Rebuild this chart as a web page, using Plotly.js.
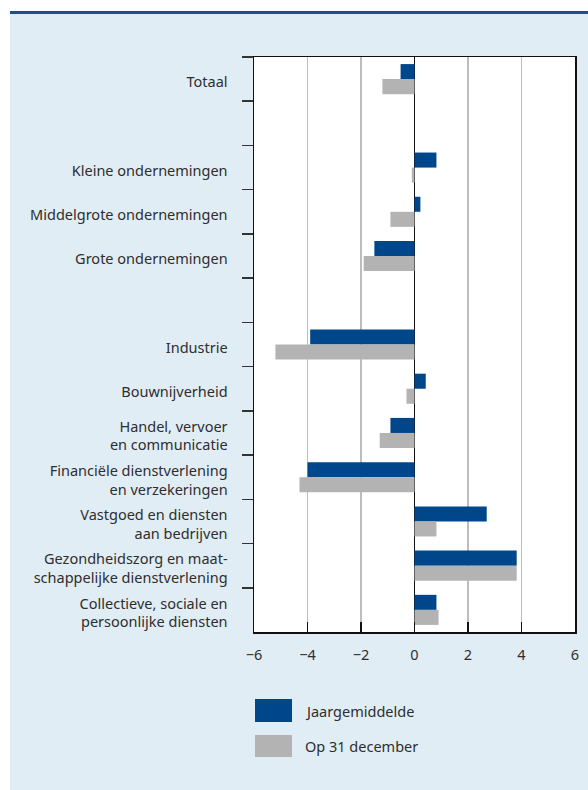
<!DOCTYPE html>
<html>
<head>
<meta charset="utf-8">
<script src="https://cdn.plot.ly/plotly-3.0.1.min.js"></script>
<style>
  html, body { margin: 0; padding: 0; background: #ffffff; }
  #bg { position: absolute; left: 10px; top: 14px; width: 578px; height: 776px; background: #e1edf5; }
  #topline { position: absolute; left: 10px; top: 11px; width: 578px; height: 3px; background: #1d4f8e; }
  #chart { position: absolute; left: 0; top: 0; width: 588px; height: 790px; }
</style>
</head>
<body>
<div id="bg"></div>
<div id="topline"></div>
<div id="chart"></div>
<script>
const categories = [
  "Totaal",
  " ",
  "Kleine ondernemingen",
  "Middelgrote ondernemingen",
  "Grote ondernemingen",
  "  ",
  "Industrie",
  "Bouwnijverheid",
  "Handel, vervoer<br>en communicatie",
  "Financiële dienstverlening<br>en verzekeringen",
  "Vastgoed en diensten<br>aan bedrijven",
  "Gezondheidszorg en maat-<br>schappelijke dienstverlening",
  "Collectieve, sociale en<br>persoonlijke diensten"
];
const jaargemiddelde = [-0.52, null, 0.82, 0.22, -1.5, null, -3.9, 0.42, -0.9, -4.0, 2.7, 3.82, 0.82];
const op31december   = [-1.2, null, -0.1, -0.9, -1.9, null, -5.2, -0.3, -1.3, -4.3, 0.82, 3.82, 0.9];
const seriesNames = ["Jaargemiddelde", "Op 31 december"];
const xTicks = [-6, -4, -2, 0, 2, 4, 6];

const W = 588, H = 790;
const M = { l: 254, r: 13, t: 57, b: 158 };
const pw = W - M.l - M.r, ph = H - M.t - M.b;
const px = x => (x - M.l) / pw;
const py = y => (H - M.b - y) / ph;

const blue = "#00468b", grey = "#b3b3b3", txt = "#2e2e2e";
const font = "Noto Sans, Open Sans, sans-serif";

const traces = [
  { type: "bar", orientation: "h", name: seriesNames[0], y: categories, x: jaargemiddelde,
    marker: { color: blue }, hoverinfo: "x+name" },
  { type: "bar", orientation: "h", name: seriesNames[1], y: categories, x: op31december,
    marker: { color: grey }, hoverinfo: "x+name" }
];

const layout = {
  width: W, height: H,
  margin: M,
  paper_bgcolor: "rgba(0,0,0,0)",
  plot_bgcolor: "#ffffff",
  barmode: "group",
  bargap: 0.32,
  bargroupgap: 0,
  showlegend: false,
  font: { family: font, size: 14.5, color: txt },
  xaxis: {
    range: [-6, 6],
    tickvals: xTicks,
    ticks: "inside", ticklen: 10, tickwidth: 1.5, tickcolor: "#111",
    showgrid: true, gridcolor: "#bdbdbd", gridwidth: 1.5,
    zeroline: true, zerolinecolor: "#111", zerolinewidth: 1.5,
    showline: true, linecolor: "#111", linewidth: 1.5, mirror: true,
    tickfont: { size: 14.5, color: txt, family: font },
    ticklabelstandoff: 9,
    fixedrange: true
  },
  yaxis: {
    type: "category",
    categoryorder: "array", categoryarray: categories,
    autorange: "reversed",
    tickson: "boundaries",
    ticks: "outside", ticklen: 11, tickwidth: 1.5, tickcolor: "#333",
    showgrid: false, zeroline: false,
    showline: true, linecolor: "#111", linewidth: 1.5, mirror: true,
    tickfont: { size: 14.5, color: txt, family: font },
    ticklabelstandoff: 22,
    ticklabelshift: -3,
    fixedrange: true
  },
  shapes: [
    { type: "rect", xref: "paper", yref: "paper", x0: px(255), x1: px(292), y0: py(722), y1: py(699),
      fillcolor: blue, line: { width: 0 } },
    { type: "rect", xref: "paper", yref: "paper", x0: px(255), x1: px(292), y0: py(757), y1: py(735),
      fillcolor: grey, line: { width: 0 } }
  ],
  annotations: [
    { xref: "paper", yref: "paper", x: px(303), y: py(711), xanchor: "left", yanchor: "middle",
      text: seriesNames[0], showarrow: false, font: { size: 14.5, color: txt, family: font } },
    { xref: "paper", yref: "paper", x: px(303), y: py(746), xanchor: "left", yanchor: "middle",
      text: seriesNames[1], showarrow: false, font: { size: 14.5, color: txt, family: font } }
  ]
};

Plotly.newPlot("chart", traces, layout, { displayModeBar: false, staticPlot: true });
</script>
</body>
</html>
